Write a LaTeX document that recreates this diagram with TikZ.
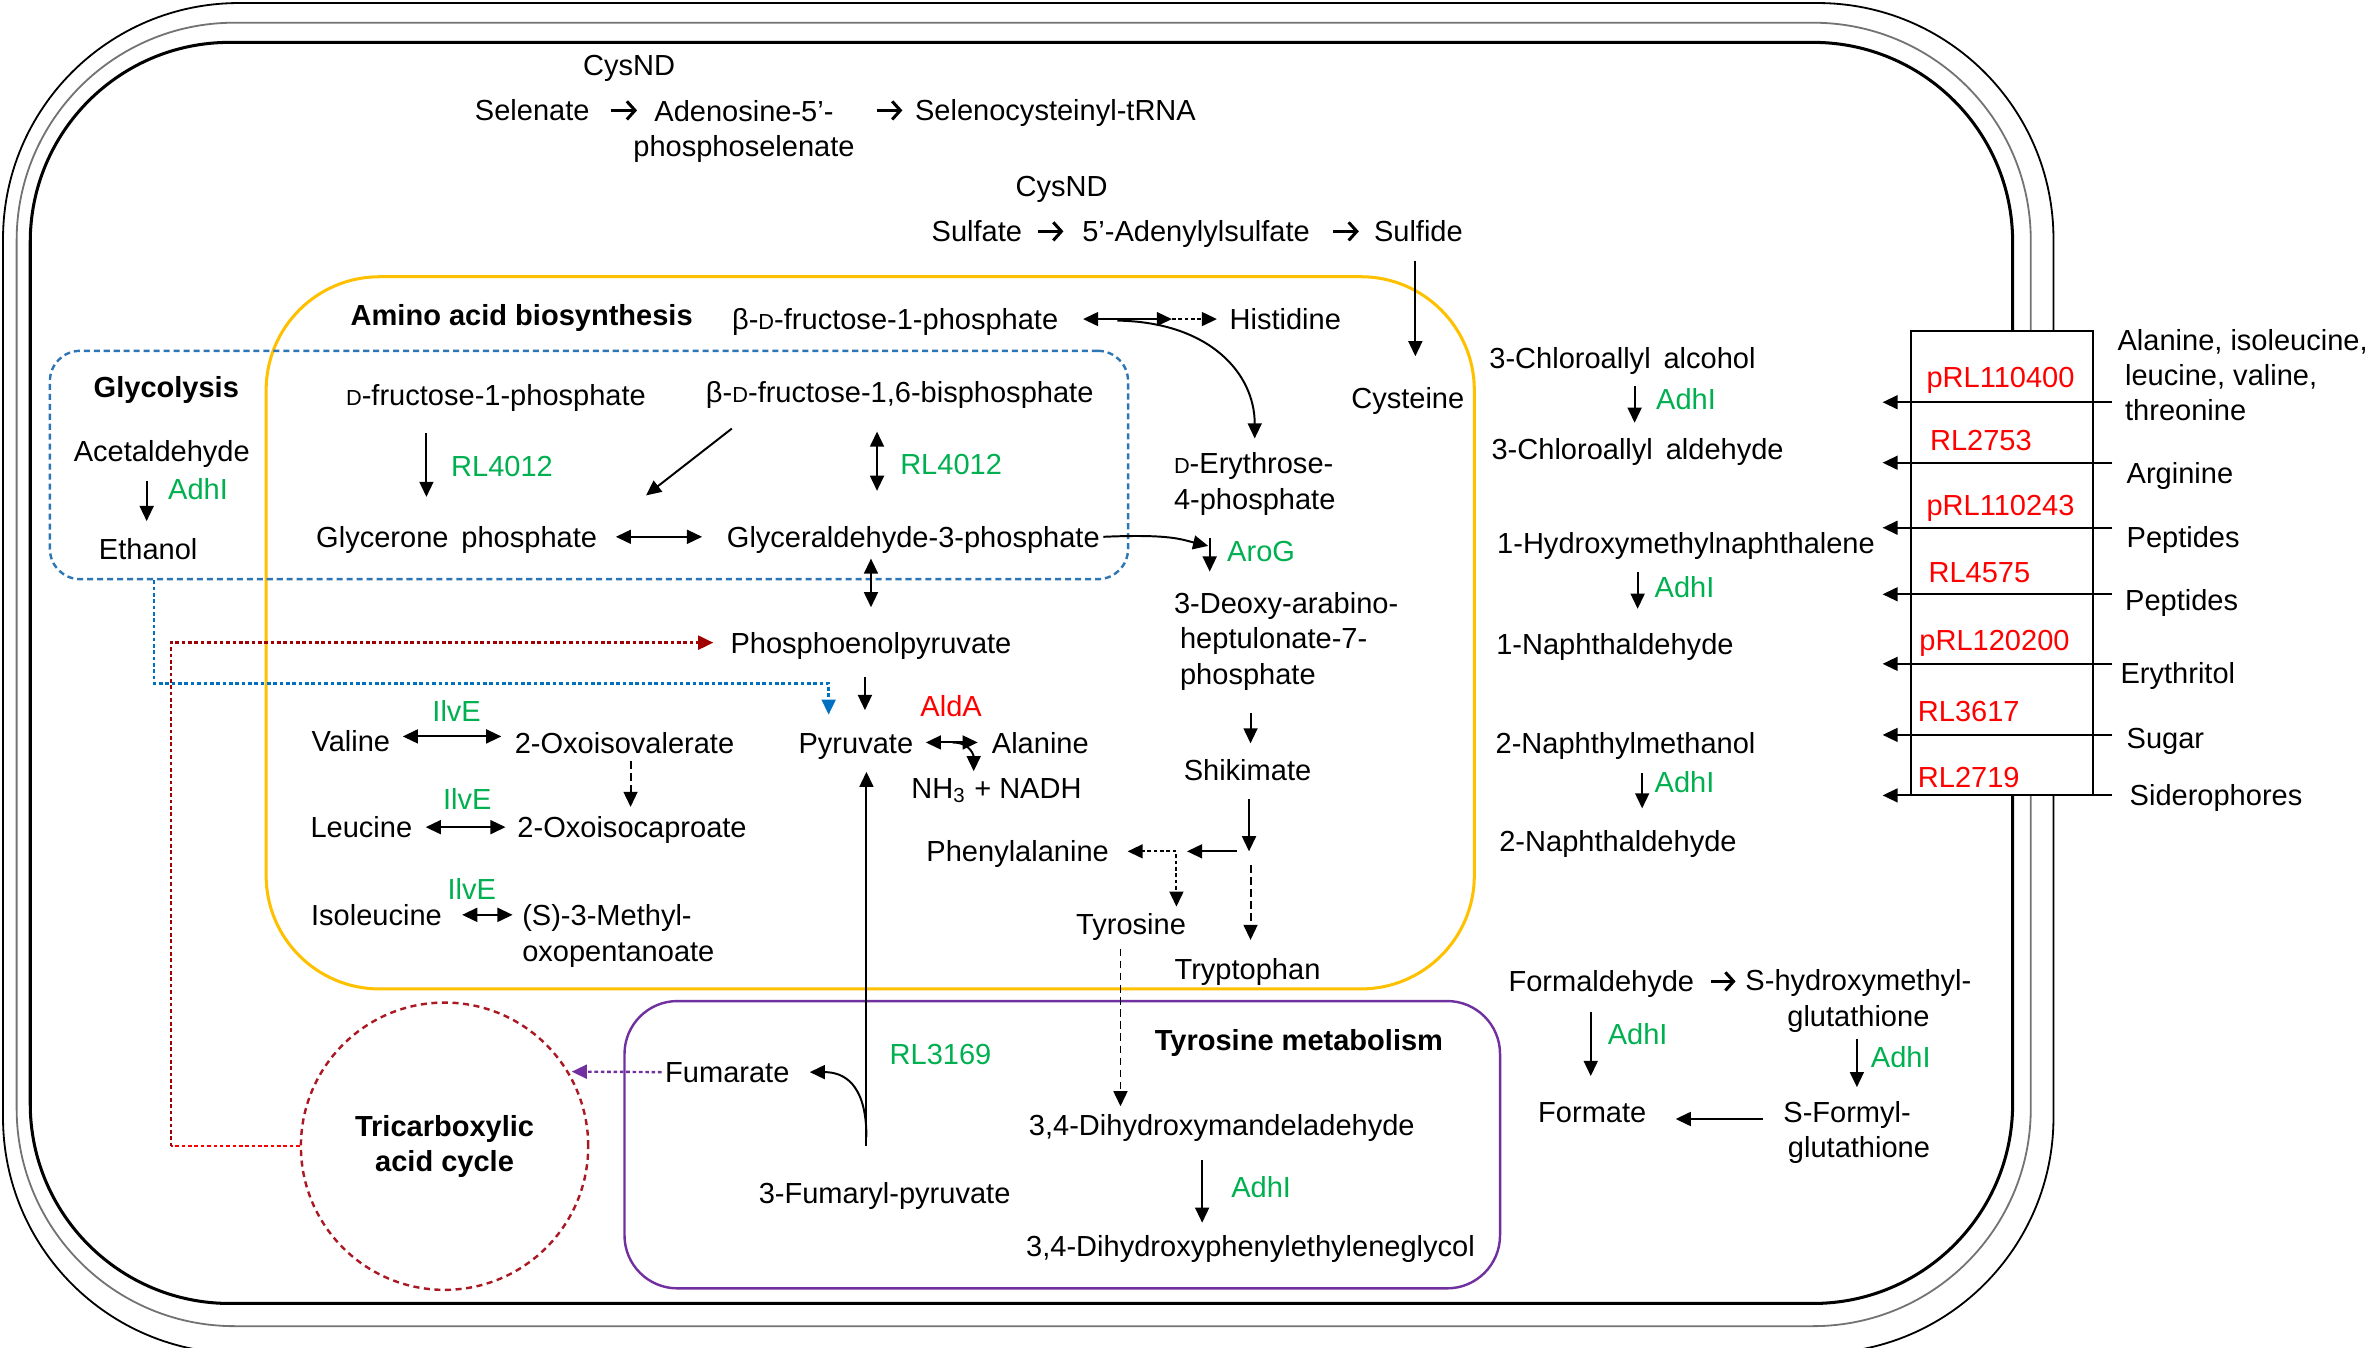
\documentclass[tikz,border=0pt]{standalone}
\usepackage{fontspec}
\setmainfont{Liberation Sans}
\usetikzlibrary{arrows.meta,calc}
\definecolor{gGreen}{RGB}{0,176,80}
\definecolor{gRed}{RGB}{255,0,0}
\definecolor{aaYellow}{RGB}{255,192,0}
\definecolor{glyBlue}{RGB}{46,117,182}
\definecolor{linkBlue}{RGB}{0,112,192}
\definecolor{tyrPurple}{RGB}{112,48,160}
\definecolor{tcaRed}{RGB}{170,25,35}
\definecolor{pepRed}{RGB}{160,0,0}
\newcommand{\scD}{{\fontsize{7.2}{8}\selectfont D}}
\tikzset{
  lbl/.style={inner sep=1pt, text height=8pt, text depth=1pt},
  mln/.style={inner sep=1pt, align=#1, yshift=-1pt},
  gn/.style={lbl, text=gGreen},
  rn/.style={lbl, text=gRed},
  ttl/.style={lbl, font=\fontsize{9.6}{11.7}\selectfont\bfseries},
  arr/.style={line width=0.65pt, -{Triangle[length=5pt,width=4.6pt]}},
  darr/.style={line width=0.65pt, {Triangle[length=5pt,width=4.6pt]}-{Triangle[length=5pt,width=4.6pt]}},
  chev/.style={line width=1pt, -{Straight Barb[length=2.7pt,width=6pt]}},
  dotl/.style={dash pattern=on 1.2pt off 0.9pt},
  dashl/.style={dash pattern=on 2.5pt off 1.5pt},
  sh/.style 2 args={shorten <=#1, shorten >=#2},
}
\begin{document}
\begin{tikzpicture}[x=0.5pt,y=-0.5pt,font=\fontsize{9.6}{11.7}\selectfont]
\useasboundingbox (0,0) rectangle (1568,891);

% cell envelope
\draw[line width=0.6pt, rounded corners=78pt] (1358,526) -- (1358,895) -- (2,895) -- (2,2) -- (1358,2) -- (1358,219);
\draw[line width=0.6pt, black!55, rounded corners=72pt] (1343,526) -- (1343,877) -- (11,877) -- (11,15) -- (1343,15) -- (1343,219);
\draw[line width=1pt, rounded corners=66pt] (1331,526) -- (1331,862) -- (20,862) -- (20,28) -- (1331,28) -- (1331,219);

% transporter box
\node[draw, line width=0.7pt, minimum width=60pt, minimum height=153.5pt, inner sep=0pt] (tbox) at (1324,372.5) {};

% pathway boxes
\node[draw=aaYellow, line width=1pt, rounded corners=37.5pt, minimum width=399.5pt, minimum height=235.5pt, inner sep=0pt] (aabox) at (575.5,418.5) {};
\node[draw=glyBlue, line width=0.8pt, dash pattern=on 2pt off 1.3pt, rounded corners=10pt, minimum width=356.5pt, minimum height=75.5pt, inner sep=0pt] (glybox) at (389.5,307.5) {};
\node[draw=tyrPurple, line width=0.8pt, rounded corners=17.5pt, minimum width=289.5pt, minimum height=95pt, inner sep=0pt] (tyrbox) at (702.5,757) {};
\node[circle, draw=tcaRed, line width=0.8pt, dash pattern=on 2pt off 1.5pt, minimum size=95pt, inner sep=0pt, align=center, font=\fontsize{9.6}{11.7}\selectfont\bfseries] (tca) at (294,758) {Tricarboxylic\\acid cycle};

% top: selenate / sulfate
\node[lbl] (cysnd1) at (416,43) {CysND};
\node[lbl] (selen) at (352,73) {Selenate};
\node[mln=center] (adeno) at (492,85) {Adenosine-5’-\\phosphoselenate};
\node[lbl] (selcys) at (698,73) {Selenocysteinyl-tRNA};
\draw[chev] ([xshift=6pt]selen.east) -- ++(8.5pt,0);
\draw[chev] ([xshift=-11.5pt]selcys.west) -- ([xshift=-3pt]selcys.west);
\node[lbl] (cysnd2) at (702,123) {CysND};
\node[lbl] (sulfate) at (646,153) {Sulfate};
\node[lbl] (aps) at (791,153) {5’-Adenylylsulfate};
\node[lbl] (sulfide) at (938,153) {Sulfide};
\draw[chev] ([xshift=4pt]sulfate.east) -- ++(8.5pt,0);
\draw[chev] ([xshift=6.5pt]aps.east) -- ++(8.5pt,0);
\node[lbl] (cysteine) at (931,263) {Cysteine};
\draw[arr, sh={4pt}{8pt}] (936,0 |- sulfide.south) -- (936,0 |- cysteine.north);

% amino acid biosynthesis
\node[ttl] (aatitle) at (345,208) {Amino acid biosynthesis};
\node[lbl] (bfp) at (592,211) {β-\scD-fructose-1-phosphate};
\node[lbl] (his) at (850,211) {Histidine};
\coordinate (hj) at (775,211);
\draw[darr, shorten <=7pt] (bfp.east) -- (hj);
\draw[arr, dotl, shorten >=3pt] (hj) -- (his.west);
\node[mln=left, anchor=west] (ery) at (774,318) {\scD-Erythrose-\\4-phosphate};
\draw[arr] ($(hj)+(-36,1)$) .. controls ($(hj)+(25,2)$) and ($(ery.north)+(0,-50)$) .. ($(ery.north)+(0,-7)$);

% glycolysis
\node[ttl] (glytitle) at (110,256) {Glycolysis};
\node[lbl] (acet) at (107,298) {Acetaldehyde};
\node[gn] (adh0) at (131,323) {AdhI};
\node[lbl] (ethanol) at (98,363) {Ethanol};
\draw[arr, sh={4.5pt}{3.5pt}] (97,0 |- acet.south) -- (97,0 |- ethanol.north);
\node[lbl] (dfp) at (328,261) {\scD-fructose-1-phosphate};
\node[gn] (rl4012a) at (332,308) {RL4012};
\node[lbl] (bfbp) at (595,259) {β-\scD-fructose-1,6-bisphosphate};
\node[gn] (rl4012b) at (629,307) {RL4012};
\node[lbl] (glycp) at (302,355) {Glycerone\, phosphate};
\node[lbl] (g3p) at (604,355) {Glyceraldehyde-3-phosphate};
\node[lbl] (pep) at (576,425) {Phosphoenolpyruvate};
\draw[arr, sh={7pt}{7.5pt}] (282,0 |- dfp.south) -- (282,0 |- glycp.north);
\draw[arr] ($(bfbp.south)+(-111,13)$) -- ($(glycp.north east)+(30,-16)$);
\draw[darr, sh={7.5pt}{9.5pt}] (580,0 |- bfbp.south) -- (580,0 |- g3p.north);
\draw[darr, sh={5pt}{7pt}] (glycp.east) -- (glycp.east -| g3p.west);
\draw[darr, sh={1.5pt}{6pt}] (576,0 |- g3p.south) -- (576,0 |- pep.north);

% aromatic branch
\coordinate (aroj) at (800,356);
\draw[arr] (g3p.east) .. controls ($(g3p.east)+(45,-2)$) and ($(aroj)+(-18,1)$) .. ($(aroj)+(-1,5)$);
\draw[arr] (aroj) -- ++(0,22);
\node[gn] (arog) at (834,364) {AroG};
\node[mln=left, anchor=west] (dahp) at (774,422) {3-Deoxy-arabino-\\\hspace*{2pt}heptulonate-7-\\\hspace*{2pt}phosphate};
\node[lbl] (shik) at (825,509) {Shikimate};
\draw[arr, sh={6.5pt}{3pt}] (827,0 |- dahp.south) -- (827,0 |- shik.north);
\coordinate (sj) at (826,563);
\draw[arr, shorten <=4pt] (826,0 |- shik.south) -- (sj);
\coordinate (pj) at (778,563);
\node[lbl] (phe) at (673,563) {Phenylalanine};
\node[lbl] (tyr) at (748,611) {Tyrosine};
\node[lbl] (trp) at (825,641) {Tryptophan};
\draw[arr, sh={4pt}{3.5pt}] (sj) -- (pj);
\draw[arr, dotl, shorten >=5pt] (pj) -- (phe.east);
\draw[arr, dotl, shorten <=1pt] (pj) -- (pj |- tyr.north);
\draw[arr, dashl, sh={4.5pt}{4pt}] ($(sj)+(1,0)$) -- ($(sj |- trp.north)+(1,0)$);

% pyruvate / alanine
\node[lbl] (pyr) at (566,491) {Pyruvate};
\draw[arr, sh={5.5pt}{5pt}] (572,0 |- pep.south) -- (572,0 |- pyr.north);
\node[rn] (alda) at (629,467) {AldA};
\node[lbl] (ala) at (688,491) {Alanine};
\node[lbl] (nh3) at (659,521) {NH\textsubscript{3} + NADH};
\draw[darr, sh={3pt}{3.5pt}] (pyr.east) -- (pyr.east -| ala.west);
\coordinate (aj) at ($(pyr.east)!0.5!(pyr.east -| ala.west)$);
\draw[arr] (aj) .. controls +(12,0) and +(0,-10) .. ($(aj)+(14,19)$);

% branched chain amino acids
\node[gn] (ilve1) at (302,470) {IlvE};
\node[lbl] (val) at (232,490) {Valine};
\node[lbl] (oiv) at (413,491) {2-Oxoisovalerate};
\draw[darr, sh={3pt}{3.25pt}] ([yshift=1.5pt]val.east) -- ([yshift=1.5pt]val.east -| oiv.west);
\node[gn] (ilve2) at (309,528) {IlvE};
\node[lbl] (leu) at (239,547) {Leucine};
\node[lbl] (oic) at (418,547) {2-Oxoisocaproate};
\draw[arr, dashl, sh={0.5pt}{1pt}] (417,0 |- oiv.south) -- (417,0 |- oic.north);
\draw[darr, sh={3.25pt}{2.75pt}] (leu.east) -- (leu.east -| oic.west);
\node[gn] (ilve3) at (312,588) {IlvE};
\node[lbl] (ile) at (249,605) {Isoleucine};
\node[mln=left, anchor=west] (mop) at (343,617) {(S)-3-Methyl-\\oxopentanoate};
\draw[darr, sh={5.5pt}{2pt}] (ile.east) -- (ile.east -| mop.west);

% tyrosine metabolism
\node[ttl] (tyrtitle) at (859,688) {Tyrosine metabolism};
\node[lbl] (dhm) at (808,744) {3,4-Dihydroxymandeladehyde};
\node[gn] (adh4) at (834,785) {AdhI};
\node[lbl] (dhpeg) at (827,824) {3,4-Dihydroxyphenylethyleneglycol};
\draw[arr, sh={6pt}{2pt}] (795,0 |- dhm.south) -- (795,0 |- dhpeg.north);
\draw[arr, dashl, sh={2.5pt}{0.5pt}] (741,0 |- tyr.south) -- (741,0 |- dhm.north);
\node[lbl] (fum) at (481,709) {Fumarate};
\node[gn] (rl3169) at (622,697) {RL3169};
\node[lbl] (fpyr) at (585,789) {3-Fumaryl-pyruvate};
\coordinate (fp) at (573,758);
\draw[arr, shorten >=4pt] (fp) -- (fp |- pyr.south);
\draw[arr] ($(fp)+(0,-6)$) .. controls +(0,-36) and +(22,0) .. ([xshift=5.5pt]fum.east);
\draw[tyrPurple, line width=0.8pt, dotl, -{Triangle[length=5pt,width=4.6pt]}, shorten >=1pt] (fum.west) -- (tca.31);

% links to TCA / pyruvate
\coordinate (rc) at (113,0 |- tca.west);
\draw[gRed, line width=0.8pt, dotl] (tca.west) -- (rc);
\draw[pepRed, line width=0.8pt, dotl, -{Triangle[length=5pt,width=4.6pt]}, shorten >=4.5pt] (rc) |- (pep.west);
\coordinate (bc) at (548,452);
\draw[linkBlue, line width=0.8pt, dotl, -{Triangle[length=5pt,width=4.6pt]}, shorten >=3.5pt] (102,0 |- glybox.south) |- (bc) -- (bc |- pyr.north);

% right side: AdhI reactions
\node[lbl] (cal) at (1073,237) {3-Chloroallyl\, alcohol};
\node[gn] (adh1) at (1115,264) {AdhI};
\node[lbl] (cald) at (1083,297) {3-Chloroallyl\, aldehyde};
\draw[arr, sh={3.5pt}{3pt}] (1081,0 |- cal.south) -- (1081,0 |- cald.north);
\node[lbl] (hmn) at (1115,359) {1-Hydroxymethylnaphthalene};
\node[gn] (adh2) at (1114,388) {AdhI};
\node[lbl] (nal1) at (1068,426) {1-Naphthaldehyde};
\draw[arr, sh={4pt}{6pt}] (1083,0 |- hmn.south) -- (1083,0 |- nal1.north);
\node[lbl] (nm2) at (1075,491) {2-Naphthylmethanol};
\node[gn] (adh3) at (1114,517) {AdhI};
\node[lbl] (nal2) at (1070,556) {2-Naphthaldehyde};
\draw[arr, sh={4.5pt}{5pt}] (1086,0 |- nm2.south) -- (1086,0 |- nal2.north);

% formaldehyde
\node[lbl] (formald) at (1059,649) {Formaldehyde};
\node[mln=center] (shmg) at (1229,660) {S-hydroxymethyl-\\glutathione};
\draw[chev] ([xshift=4.5pt]formald.east) -- ++(8pt,0);
\node[gn] (adh5) at (1083,684) {AdhI};
\node[lbl] (formate) at (1053,735) {Formate};
\draw[arr, sh={4.5pt}{6pt}] (1052,0 |- formald.south) -- (1052,0 |- formate.north);
\node[gn] (adh6) at (1257,699) {AdhI};
\node[mln=left, anchor=west] (sfg) at (1177,747) {S-Formyl-\\\hspace*{1.5pt}glutathione};
\draw[arr, sh={1pt}{3.5pt}] (1228,0 |- shmg.south) -- (1228,0 |- sfg.north);
\draw[arr, sh={5.5pt}{8.5pt}] ($(sfg.west |- formate.east)+(0,5)$) -- ($(formate.east)+(0,5)$);

% transporters
\node[rn] (t1) at (1323,249) {pRL110400};
\node[rn] (t2) at (1310,291) {RL2753};
\node[rn] (t3) at (1323,334) {pRL110243};
\node[rn] (t4) at (1309,378) {RL4575};
\node[rn] (t5) at (1319,423) {pRL120200};
\node[rn] (t6) at (1302,470) {RL3617};
\node[rn] (t7) at (1302,514) {RL2719};
\node[mln=left, anchor=west] (s1) at (1398,246) {Alanine, isoleucine,\\\hspace*{2.5pt}leucine, valine,\\\hspace*{2.5pt}threonine};
\node[lbl, anchor=west] (s2) at (1404,313) {Arginine};
\node[lbl, anchor=west] (s3) at (1404,355) {Peptides};
\node[lbl, anchor=west] (s4) at (1403,397) {Peptides};
\node[lbl, anchor=west] (s5) at (1400,445) {Erythritol};
\node[lbl, anchor=west] (s6) at (1404,488) {Sugar};
\node[lbl, anchor=west] (s7) at (1406,526) {Siderophores};
\foreach \yy in {266,306,349,393,439,486,526}
  \draw[arr] (1397,\yy) -- (1245,\yy);
\end{tikzpicture}
\end{document}
